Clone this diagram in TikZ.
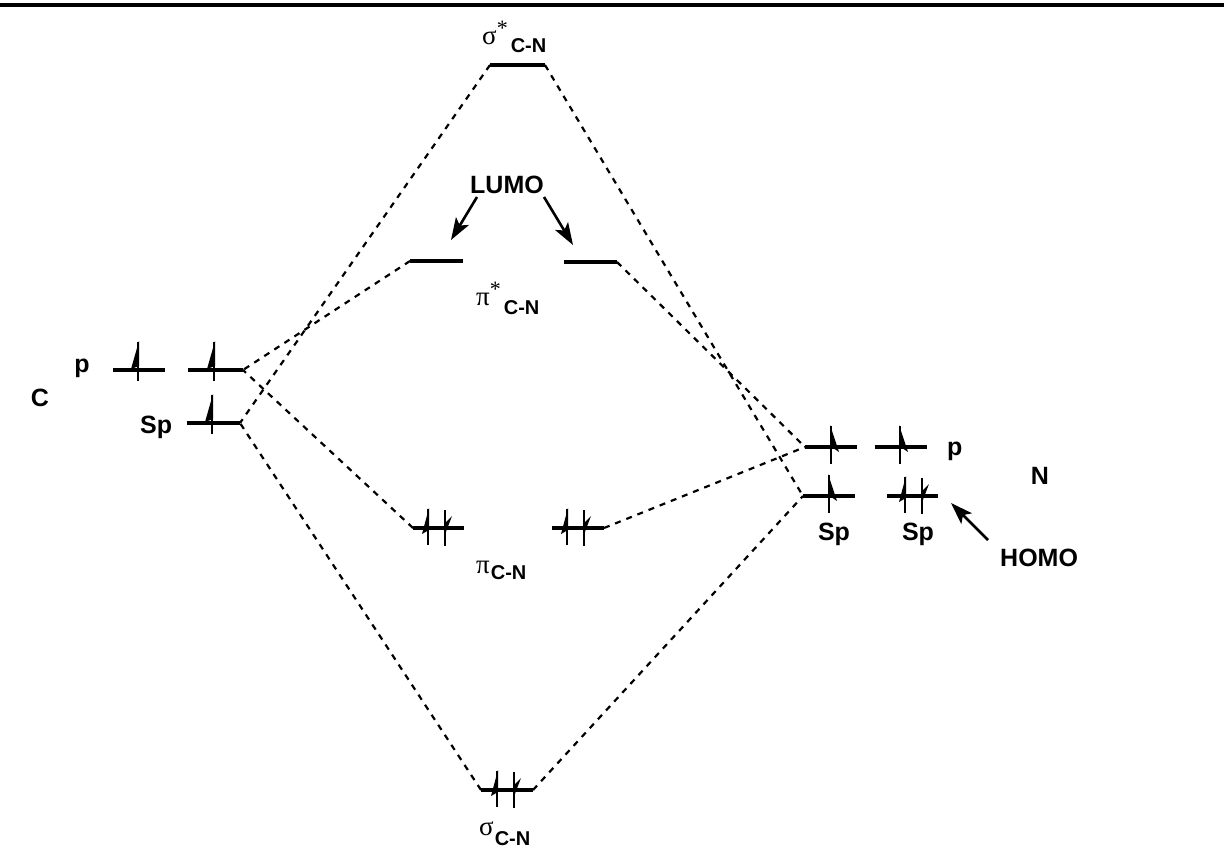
\documentclass[tikz,border=0pt]{standalone}
\usepackage{fontspec}
\setmainfont{Liberation Sans}
\newfontfamily\grk{Liberation Serif}
\usetikzlibrary{arrows.meta}
\begin{document}
\begin{tikzpicture}[x=1pt,y=-1pt,
  level/.style={line width=3.2pt},
  conn/.style={line width=2.2pt, dash pattern=on 6pt off 6pt},
  spinline/.style={line width=2.8pt},
  lbl/.style={font=\fontsize{25}{25}\selectfont\bfseries, inner sep=0pt},
  ptr/.style={line width=2.6pt, -{Stealth[length=22pt,width=15pt,inset=5pt]}},
  upC/.pic={\draw[spinline] (0,11) -- (0,-28); \fill (1,-29) -- (-7,-1) -- (1,-4) -- cycle;},
  upN/.pic={\draw[spinline] (0,17) -- (0,-21); \fill (-1,-22) -- (8,5) -- (-1,-1) -- cycle;},
  pairUp/.pic={\draw[spinline] (0,17) -- (0,-19); \fill (1,-20) -- (-6,6) -- (1,2) -- cycle;},
  pairDn/.pic={\draw[spinline] (0,18) -- (0,-18); \fill (-1,9) -- (7,-12) -- (-1,-4) -- cycle;}
]
\useasboundingbox (0,0) rectangle (1224,859);
% top rule
\coordinate (ruleL) at (0,5);
\coordinate (ruleR) at (1224,5);
\draw[line width=3.5pt] (ruleL) -- (ruleR);

% C orbitals
\coordinate (cp1L) at (113,370); \coordinate (cp1R) at (165,370);
\coordinate (cp2L) at (188,370); \coordinate (cp2R) at (243,370);
\coordinate (cspL) at (187,423); \coordinate (cspR) at (240,423);
\draw[level] (cp1L) -- (cp1R);
\draw[level] (cp2L) -- (cp2R);
\draw[level] (cspL) -- (cspR);
\pic at (138,370) {upC};
\pic at (214,370) {upC};
\pic at (212,423) {upC};

% N orbitals
\coordinate (np1L) at (805,447); \coordinate (np1R) at (857,447);
\coordinate (np2L) at (875,447); \coordinate (np2R) at (927,447);
\coordinate (nsp1L) at (803,496); \coordinate (nsp1R) at (855,496);
\coordinate (nsp2L) at (887,496); \coordinate (nsp2R) at (938,496);
\draw[level] (np1L) -- (np1R);
\draw[level] (np2L) -- (np2R);
\draw[level] (nsp1L) -- (nsp1R);
\draw[level] (nsp2L) -- (nsp2R);
\pic at (831,447) {upN};
\pic at (900,447) {upN};
\pic at (829,496) {upN};
\pic at (905,496) {pairUp};
\pic at (922,496) {pairDn};

% MO levels
\coordinate (ssL) at (490,65); \coordinate (ssR) at (545,65);
\coordinate (psLL) at (410,261); \coordinate (psLR) at (463,261);
\coordinate (psRL) at (564,262); \coordinate (psRR) at (617,262);
\coordinate (piLL) at (413,528); \coordinate (piLR) at (464,528);
\coordinate (piRL) at (552,528); \coordinate (piRR) at (604,528);
\coordinate (sL) at (481,790); \coordinate (sR) at (533,790);
\draw[level] (ssL) -- (ssR);
\draw[level] (psLL) -- (psLR);
\draw[level] (psRL) -- (psRR);
\draw[level] (piLL) -- (piLR);
\draw[level] (piRL) -- (piRR);
\draw[level] (sL) -- (sR);
\pic at (428,528) {pairUp};
\pic at (445,528) {pairDn};
\pic at (567,528) {pairUp};
\pic at (584,528) {pairDn};
\pic at (497,790) {pairUp};
\pic at (514,790) {pairDn};

% correlation lines
\draw[conn] (ssL) -- (cspR);
\draw[conn] (ssR) -- (nsp1L);
\draw[conn] (psLL) -- (cp2R);
\draw[conn] (psRR) -- (np1L);
\draw[conn] (piLL) -- (cp2R);
\draw[conn] (piRR) -- (np1L);
\draw[conn] (sL) -- (cspR);
\draw[conn] (sR) -- (nsp1L);

% labels
\node[lbl, anchor=base] (Clbl) at (40,406) {C};
\node[lbl, anchor=base] (cplbl) at (82,372) {p};
\node[lbl, anchor=base west] (csplbl) at (140,433) {Sp};
\node[lbl, anchor=base west] (nplbl) at (947,455) {p};
\node[lbl, anchor=base] (nsp1lbl) at (834,540) {Sp};
\node[lbl, anchor=base] (nsp2lbl) at (918,540) {Sp};
\node[lbl, anchor=base] (Nlbl) at (1040,484) {N};
\node[lbl, anchor=base west] (homo) at (1000,566) {HOMO};
\node[lbl, anchor=base west] (lumo) at (470,193) {LUMO};

\node[inner sep=0pt, anchor=base west] (sslbl) at (482,45)
  {{\grk\fontsize{27}{27}\selectfont σ}\raisebox{9pt}{\grk\fontsize{22}{22}\selectfont *}\hspace{3pt}\raisebox{-8pt}{\fontsize{20}{20}\selectfont\bfseries C-N}};
\node[inner sep=0pt, anchor=base west] (pslbl) at (476,305)
  {{\grk\fontsize{27}{27}\selectfont π}\raisebox{9pt}{\grk\fontsize{22}{22}\selectfont *}\hspace{3pt}\raisebox{-9pt}{\fontsize{20}{20}\selectfont\bfseries C-N}};
\node[inner sep=0pt, anchor=base west] (pilbl) at (476,573)
  {{\grk\fontsize{27}{27}\selectfont π}\hspace{1pt}\raisebox{-6pt}{\fontsize{20}{20}\selectfont\bfseries C-N}};
\node[inner sep=0pt, anchor=base west] (slbl) at (479,835)
  {{\grk\fontsize{27}{27}\selectfont σ}\hspace{1pt}\raisebox{-10pt}{\fontsize{20}{20}\selectfont\bfseries C-N}};

% pointer arrows
\coordinate (lumoA) at (477,197); \coordinate (lumoB) at (544,197);
\coordinate (lumoAt) at (451,240); \coordinate (lumoBt) at (573,245);
\draw[ptr] (lumoA) -- (lumoAt);
\draw[ptr] (lumoB) -- (lumoBt);
\coordinate (homoA) at (988,540); \coordinate (homoAt) at (951,503);
\draw[ptr] (homoA) -- (homoAt);
\end{tikzpicture}
\end{document}
